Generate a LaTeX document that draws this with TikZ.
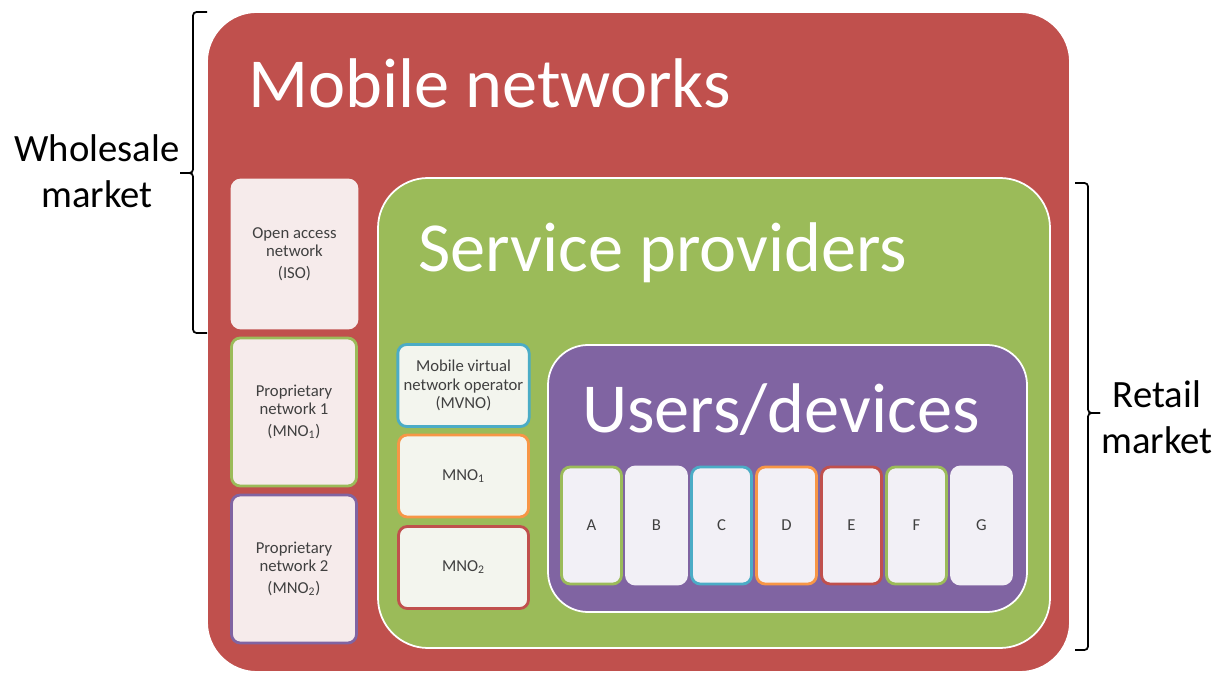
\documentclass[tikz,border=0pt]{standalone}
\usepackage{fontspec}
\setmainfont{Carlito}
\usepackage{tikz}
\usetikzlibrary{
  positioning,
  calc
}
\definecolor{mnred}{HTML}{C0504D}
\definecolor{spgreen}{HTML}{9BBB59}
\definecolor{uspurple}{HTML}{8064A2}
\definecolor{opblue}{HTML}{4BACC6}
\definecolor{oporange}{HTML}{F79646}
\definecolor{netfill}{HTML}{F6EBEB}
\definecolor{opfill}{HTML}{F3F5EE}
\definecolor{devfill}{HTML}{F2F0F6}
\definecolor{boxtext}{HTML}{404040}
\tikzstyle{layer}=[draw=white, line width=1pt, rounded corners=1cm]
\tikzstyle{title}=[text=white, font=\fontsize{40}{48}\selectfont, anchor=base west, inner sep=0pt]
\tikzstyle{netbox}=[draw, line width=1.6pt, rounded corners=5pt, text=boxtext, font=\fontsize{9.5}{10.5}\selectfont, align=center]
\tikzstyle{brace}=[line width=1pt, rounded corners=2pt]
\tikzstyle{market}=[font=\fontsize{22}{26}\selectfont, align=center]

\begin{document}
\begin{tikzpicture}
    \useasboundingbox (0,0) rectangle (24.48,13.54);

    % 移動体通信網
    \node[layer, fill=mnred, minimum width=17.26cm, minimum height=13.2cm] (mobile) at (12.77,6.70) {};
    \node[title] (mobiletitle) at (4.96,11.38) {Mobile networks};

    % 網の種類
    \node[netbox, draw=netfill, fill=netfill, minimum width=2.5cm, minimum height=2.96cm] (iso) at (5.89,8.46)
      {Open access\\network\\[2pt](ISO)};
    \node[netbox, draw=spgreen, fill=netfill, minimum width=2.5cm, minimum height=2.96cm] (prop1) at (5.88,5.30)
      {Proprietary\\network 1\\[2pt](MNO\textsubscript{1})};
    \node[netbox, draw=uspurple, fill=netfill, minimum width=2.5cm, minimum height=2.96cm] (prop2) at (5.88,2.16)
      {Proprietary\\network 2\\[2pt](MNO\textsubscript{2})};

    % サービス事業者
    \node[layer, fill=spgreen, minimum width=13.44cm, minimum height=9.40cm] (service) at (14.28,5.28) {};
    \node[title] (servicetitle) at (8.36,8.10) {Service providers};

    \node[netbox, draw=opblue, fill=opfill, minimum width=2.6cm, minimum height=1.64cm] (mvno) at (9.27,5.83)
      {Mobile virtual\\network operator\\(MVNO)};
    \node[netbox, draw=oporange, fill=opfill, minimum width=2.6cm, minimum height=1.64cm] (mno1) at (9.27,4.02)
      {MNO\textsubscript{1}};
    \node[netbox, draw=mnred, fill=opfill, minimum width=2.6cm, minimum height=1.64cm] (mno2) at (9.27,2.19)
      {MNO\textsubscript{2}};

    % 利用者・端末
    \node[layer, fill=uspurple, rounded corners=0.8cm, minimum width=9.58cm, minimum height=5.34cm] (users) at (15.75,3.97) {};
    \node[title] (userstitle) at (11.64,4.88) {Users/devices};

    \foreach \name/\col [count=\i from 0] in {A/spgreen, B/devfill, C/opblue, D/oporange, E/mnred, F/spgreen, G/devfill}
      \node[netbox, draw=\col, fill=devfill, minimum width=1.2cm, minimum height=2.34cm] (dev\name) at (11.83+1.3*\i,3.03) {\name};

    % 卸売市場の括弧
    \coordinate (wtop) at (4.14,13.30);
    \coordinate (wbot) at (4.14,6.88);
    \coordinate (wtip) at (3.60,10.08);
    \draw[brace] (wtop) -- (3.86,13.30) -- (3.86,10.08) -- (wtip);
    \draw[brace] (wtip) -- (3.86,10.08) -- (3.86,6.88) -- (wbot);
    \node[market] (wholesale) at (1.94,10.12) {Wholesale\\market};

    % 小売市場の括弧
    \coordinate (rtop) at (21.50,9.88);
    \coordinate (rbot) at (21.50,0.54);
    \coordinate (rtip) at (22.00,5.28);
    \draw[brace] (rtop) -- (21.76,9.88) -- (21.76,5.28) -- (rtip);
    \draw[brace] (rtip) -- (21.76,5.28) -- (21.76,0.54) -- (rbot);
    \node[market] (retail) at (23.14,5.20) {Retail\\market};
  \end{tikzpicture}
\end{document}
